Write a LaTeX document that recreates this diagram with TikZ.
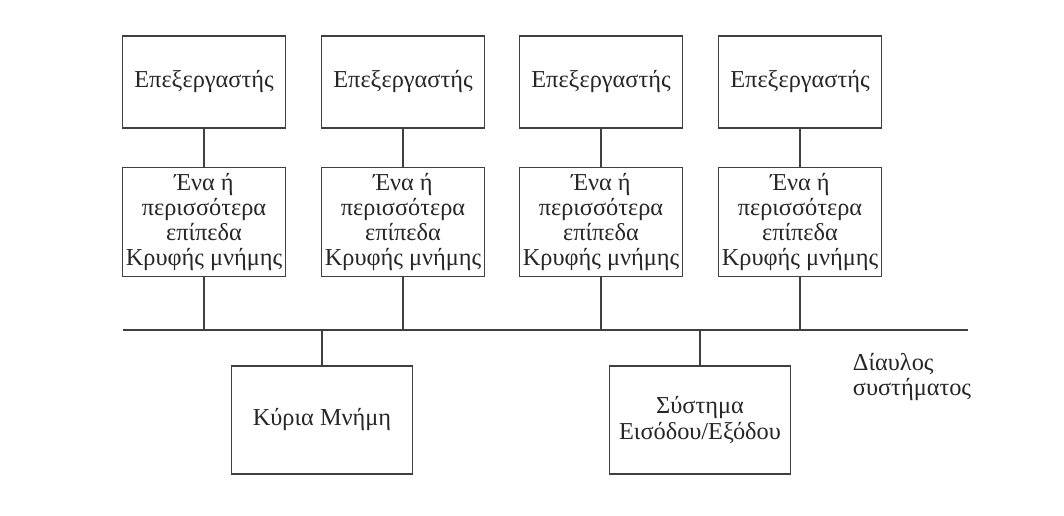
\documentclass[tikz,border=0pt]{standalone}
\usepackage{fontspec}
\setmainfont{Liberation Serif}

\begin{document}
\begin{tikzpicture}[x=0.025cm, y=-0.025cm,
    every node/.style ={text=black!85, font=\fontsize{17.3}{18}\selectfont},
    processor/.style ={rectangle, draw=black!75, line width=1.3pt, inner sep=1pt,
                       minimum width=4.075cm, minimum height=2.3cm},
    cache/.style ={rectangle, draw=black!75, line width=1.3pt, inner sep=1pt, align=center,
                   minimum width=4.075cm, minimum height=2.725cm},
    unit/.style ={rectangle, draw=black!75, line width=1.3pt, inner sep=1pt, align=center,
                  minimum width=4.525cm, minimum height=2.7cm},
    link/.style ={draw=black!75, line width=1.3pt}]
   \useasboundingbox (0,0) rectangle (1064,515);
   \node[processor] (P1) at (204,82)  {Επεξεργαστής};
   \node[processor] (P2) at (403,82)  {Επεξεργαστής};
   \node[processor] (P3) at (601,82)  {Επεξεργαστής};
   \node[processor] (P4) at (800,82)  {Επεξεργαστής};
   \node[cache] (C1) at (204,222)  {Ένα ή\\περισσότερα\\επίπεδα\\Κρυφής μνήμης};
   \node[cache] (C2) at (403,222)  {Ένα ή\\περισσότερα\\επίπεδα\\Κρυφής μνήμης};
   \node[cache] (C3) at (601,222)  {Ένα ή\\περισσότερα\\επίπεδα\\Κρυφής μνήμης};
   \node[cache] (C4) at (800,222)  {Ένα ή\\περισσότερα\\επίπεδα\\Κρυφής μνήμης};
   \node[unit] (M) at (322,420)  {Κύρια Μνήμη};
   \node[unit] (IO) at (700,420)  {Σύστημα\\Εισόδου/Εξόδου};
   \coordinate (busL) at (123,330);
   \coordinate (busR) at (968,330);
   \node[anchor=west, align=left] (bus) at (848,377)  {Δίαυλος\\συστήματος};
   \draw[link] (busL) to  (busR);
   \draw[link] (P1) to  (C1);
   \draw[link] (P2) to  (C2);
   \draw[link] (P3) to  (C3);
   \draw[link] (P4) to  (C4);
   \draw[link] (C1) to  (C1 |- busL);
   \draw[link] (C2) to  (C2 |- busL);
   \draw[link] (C3) to  (C3 |- busL);
   \draw[link] (C4) to  (C4 |- busL);
   \draw[link] (M |- busL) to  (M);
   \draw[link] (IO |- busL) to  (IO);
 \end{tikzpicture}
\end{document}
